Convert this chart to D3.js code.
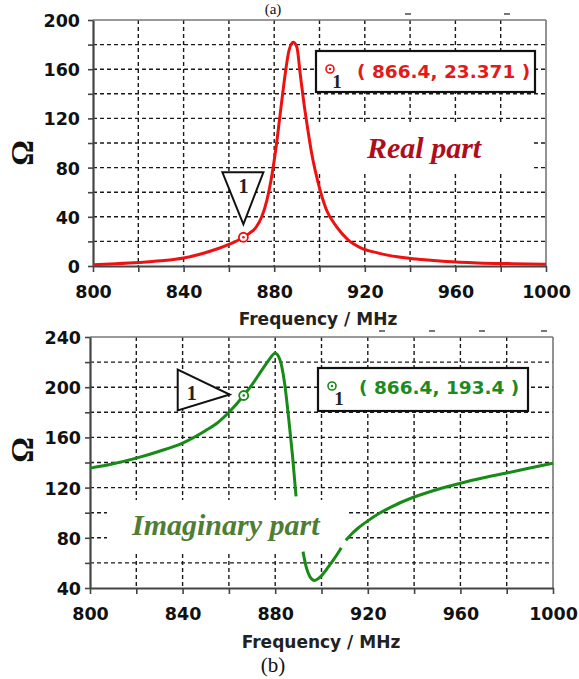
<!DOCTYPE html>
<html><head><meta charset="utf-8">
<script src="https://cdn.jsdelivr.net/npm/d3@7"></script>
<style>body{margin:0;background:#fff}svg{display:block}</style>
</head><body>
<svg id="c" width="579" height="679"></svg>
<script>
// ---------- data ----------
const freqTickLabels = [800, 840, 880, 920, 960, 1000];
const realTickLabels = [0, 40, 80, 120, 160, 200];
const imagTickLabels = [40, 80, 120, 160, 200, 240];

const realFreq = [800, 810, 820, 830, 840, 848, 855, 860, 866.4, 869, 872, 874.5, 876.7, 879, 881, 883, 885, 886.5, 888.4, 890, 891.5, 893, 894.5, 896.5, 899.5, 903, 907.5, 912.5, 918, 926, 935, 945, 956, 970, 985, 1000];
const realOhm  = [1, 1.8, 2.8, 4.2, 6.5, 10, 14, 17.5, 23.371, 26.5, 31.5, 40, 53, 74, 99, 129, 158, 175, 182, 178, 156, 134, 115, 92, 67, 46, 32, 21.5, 15, 10.5, 7.3, 5.2, 3.6, 2.5, 1.9, 1.4];

const imagFreq = [800, 810, 820, 830, 840, 850, 855, 860, 866.4, 870, 874, 877, 880, 882, 884, 886, 887.5, 889, 890.5, 892, 893.5, 895, 897, 899, 901, 903, 905, 907, 908.5, 909.5, 910.5, 913, 916, 920, 925, 930, 940, 950, 960, 970, 980, 990, 1000];
const imagOhm  = [135.5, 139, 143.5, 149, 155.5, 165.5, 171.5, 180, 193.4, 202, 213, 221, 227, 222, 204, 172, 145, 113, null, 69, 56, 49, 46, 48, 52, 57, 62, 67.5, 72, null, 78, 83, 88, 93.5, 99.5, 104.5, 112.5, 118.5, 123.5, 127.8, 131.6, 135.6, 139.4];

const markerFreq = 866.4;
const markerReal = 23.371;
const markerImag = 193.4;
const markerId = "1";
const realReadout = "( 866.4, 23.371 )";
const imagReadout = "( 866.4, 193.4 )";
const realName = "Real part";
const imagName = "Imaginary part";
const xTitle = "Frequency / MHz";
const yTitle = "\u03A9";

// ---------- drawing ----------
const svg = d3.select("#c");
const SANS = "'DejaVu Sans', Verdana, sans-serif";
const SERIF = "'Liberation Serif', 'Times New Roman', serif";

function panel(cfg) {
  const x = d3.scaleLinear().domain([800, 1000]).range(cfg.xr);
  const y = d3.scaleLinear().domain(cfg.yd).range(cfg.yr);
  const g = svg.append("g");
  const x0 = x(800), x1 = x(1000), yb = y(cfg.yd[0]), yt = y(cfg.yd[1]);

  // grid
  const gx = d3.range(820, 1000, 20);
  const gy = d3.range(cfg.yd[0] + 20, cfg.yd[1], 20);
  g.selectAll(".vg").data(gx).join("line")
    .attr("x1", d => x(d)).attr("x2", d => x(d)).attr("y1", yt).attr("y2", yb)
    .attr("stroke", "#1a1a1a").attr("stroke-width", 1.4).attr("stroke-dasharray", "4,3");
  g.selectAll(".hg").data(gy).join("line")
    .attr("x1", x0).attr("x2", x1).attr("y1", d => y(d)).attr("y2", d => y(d))
    .attr("stroke", "#1a1a1a").attr("stroke-width", 1.4).attr("stroke-dasharray", "4,3");

  // white patch behind the series name
  g.append("rect").attr("x", cfg.nameBox[0]).attr("y", cfg.nameBox[1])
    .attr("width", cfg.nameBox[2]).attr("height", cfg.nameBox[3]).attr("fill", "#fff");

  // frame top/right
  g.append("line").attr("x1", x0).attr("x2", x1).attr("y1", yt).attr("y2", yt)
    .attr("stroke", "#777").attr("stroke-width", 1.6);
  g.append("line").attr("x1", x1).attr("x2", x1).attr("y1", yt).attr("y2", yb)
    .attr("stroke", "#777").attr("stroke-width", 1.6);

  // axes
  const xAxis = d3.axisBottom(x).tickValues(d3.range(800, 1001, 20)).tickSize(6).tickSizeOuter(0)
    .tickFormat(d => freqTickLabels.includes(d) ? d : "");
  g.append("g").attr("transform", `translate(0,${yb})`).call(xAxis)
    .call(a => a.select(".domain").attr("stroke", "#444").attr("stroke-width", 2.2))
    .call(a => a.selectAll(".tick line").attr("stroke", "#444").attr("stroke-width", 1.6))
    .call(a => a.selectAll("text").attr("font-family", SANS).attr("font-weight", "bold")
      .attr("font-size", 17.5).attr("fill", "#111").attr("y", cfg.xLabelDy).attr("dy", 0));

  const yAxis = d3.axisLeft(y).tickValues(d3.range(cfg.yd[0], cfg.yd[1] + 1, 20)).tickSize(5).tickSizeOuter(0)
    .tickPadding(cfg.yPad).tickFormat(d => cfg.yLabels.includes(d) ? d : "");
  g.append("g").attr("transform", `translate(${x0},0)`).call(yAxis)
    .call(a => a.select(".domain").attr("stroke", "#444").attr("stroke-width", 2.2))
    .call(a => a.selectAll(".tick line").attr("stroke", "#444").attr("stroke-width", 1.6))
    .call(a => a.selectAll("text").attr("font-family", SANS).attr("font-weight", "bold")
      .attr("font-size", 17.5).attr("fill", "#111").attr("dy", "0.37em"));

  // axis titles
  g.append("text").attr("x", cfg.xTitlePos[0]).attr("y", cfg.xTitlePos[1]).attr("text-anchor", "middle")
    .attr("font-family", SANS).attr("font-weight", "bold").attr("font-size", 17).attr("fill", "#222").text(xTitle);
  g.append("text").attr("transform", `translate(${cfg.yTitlePos[0]},${cfg.yTitlePos[1]}) rotate(-90)`)
    .attr("text-anchor", "middle").attr("dominant-baseline", "central")
    .attr("font-family", SERIF).attr("font-weight", "bold").attr("font-size", 32).attr("fill", "#111").text(yTitle);

  // curve
  const pts = cfg.fx.map((f, i) => [f, cfg.fy[i]]);
  const line = d3.line().defined(d => d[1] != null).x(d => x(d[0])).y(d => y(d[1])).curve(d3.curveMonotoneX);
  g.append("path").attr("d", line(pts)).attr("fill", "none").attr("stroke", cfg.color)
    .attr("stroke-width", 3).attr("stroke-linejoin", "round").attr("stroke-linecap", "butt");

  // series name
  g.append("text").attr("x", cfg.namePos[0]).attr("y", cfg.namePos[1])
    .attr("font-family", SERIF).attr("font-weight", "bold").attr("font-style", "italic")
    .attr("font-size", 30).attr("fill", cfg.nameColor).text(cfg.name);

  // marker triangle
  const mx = x(markerFreq), my = y(cfg.mv);
  const tri = cfg.tri.map(p => [mx + p[0], my + p[1]]);
  g.append("polygon").attr("points", tri.map(p => p.join(",")).join(" "))
    .attr("fill", "#fff").attr("stroke", "#111").attr("stroke-width", 2).attr("stroke-linejoin", "miter");
  g.append("text").attr("x", mx + cfg.triLabel[0]).attr("y", my + cfg.triLabel[1]).attr("text-anchor", "middle")
    .attr("font-family", SERIF).attr("font-weight", "bold").attr("font-size", 20).attr("fill", "#222").text(markerId);
  g.append("circle").attr("cx", mx).attr("cy", my).attr("r", 4.5).attr("fill", "#fff")
    .attr("stroke", cfg.color).attr("stroke-width", 1.8);
  g.append("circle").attr("cx", mx).attr("cy", my).attr("r", 1.3).attr("fill", cfg.color);

  // readout box
  const b = cfg.box;
  g.append("rect").attr("x", b[0]).attr("y", b[1]).attr("width", b[2]).attr("height", b[3])
    .attr("fill", "#fff").attr("stroke", "#111").attr("stroke-width", 2.2);
  g.append("circle").attr("cx", b[0] + 14).attr("cy", b[1] + 18).attr("r", 4).attr("fill", "#fff")
    .attr("stroke", cfg.color).attr("stroke-width", 1.6);
  g.append("circle").attr("cx", b[0] + 14).attr("cy", b[1] + 18).attr("r", 1.2).attr("fill", cfg.color);
  g.append("text").attr("x", b[0] + 21).attr("y", b[1] + 37).attr("text-anchor", "middle")
    .attr("font-family", SERIF).attr("font-weight", "bold").attr("font-size", 19).attr("fill", "#222").text(markerId);
  g.append("text").attr("x", b[0] + 41).attr("y", b[1] + cfg.readoutDy)
    .attr("font-family", SANS).attr("font-weight", "bold").attr("font-size", 18.5).attr("fill", cfg.textColor).text(cfg.readout);

  // stray dashes above the frame
  g.selectAll(".stray").data(cfg.stray).join("line")
    .attr("x1", d => d[0]).attr("x2", d => d[0] + 6).attr("y1", d => d[1]).attr("y2", d => d[1])
    .attr("stroke", "#555").attr("stroke-width", 1.6);
}

panel({
  xr: [93, 546], yd: [0, 200], yr: [266, 20], yLabels: realTickLabels, yPad: 8, xLabelDy: 32,
  fx: realFreq, fy: realOhm, mv: markerReal, color: "#ee1111", textColor: "#e41a1a",
  name: realName, nameColor: "#b00d1b", namePos: [367, 158], nameBox: [302, 124, 231, 47],
  xTitlePos: [318, 325], yTitlePos: [22, 153],
  tri: [[-21, -65], [20, -65], [0, -13]], triLabel: [0, -44],
  box: [316, 51, 219, 41], readout: realReadout, readoutDy: 27,
  stray: [[405, 14], [504, 14]]
});

panel({
  xr: [90, 553], yd: [40, 240], yr: [588, 337], yLabels: imagTickLabels, yPad: 4, xLabelDy: 32,
  fx: imagFreq, fy: imagOhm, mv: markerImag, color: "#178a17", textColor: "#1d8a1d",
  name: imagName, nameColor: "#4e7d33", namePos: [132, 535], nameBox: [107, 500, 240, 51],
  xTitlePos: [321, 648], yTitlePos: [22, 450],
  tri: [[-66, -26], [-66, 15], [-14, -1]], triLabel: [-52, 5],
  box: [318, 368, 210, 43], readout: imagReadout, readoutDy: 26,
  stray: [[379, 331], [429, 331], [479, 331], [541, 331]]
});

// panel captions
svg.append("text").attr("x", 273).attr("y", 14).attr("text-anchor", "middle")
  .attr("font-family", SERIF).attr("font-size", 15).attr("fill", "#111").text("(a)");
svg.append("text").attr("x", 273).attr("y", 672).attr("text-anchor", "middle")
  .attr("font-family", SERIF).attr("font-size", 21).attr("fill", "#111").text("(b)");
</script>
</body></html>
